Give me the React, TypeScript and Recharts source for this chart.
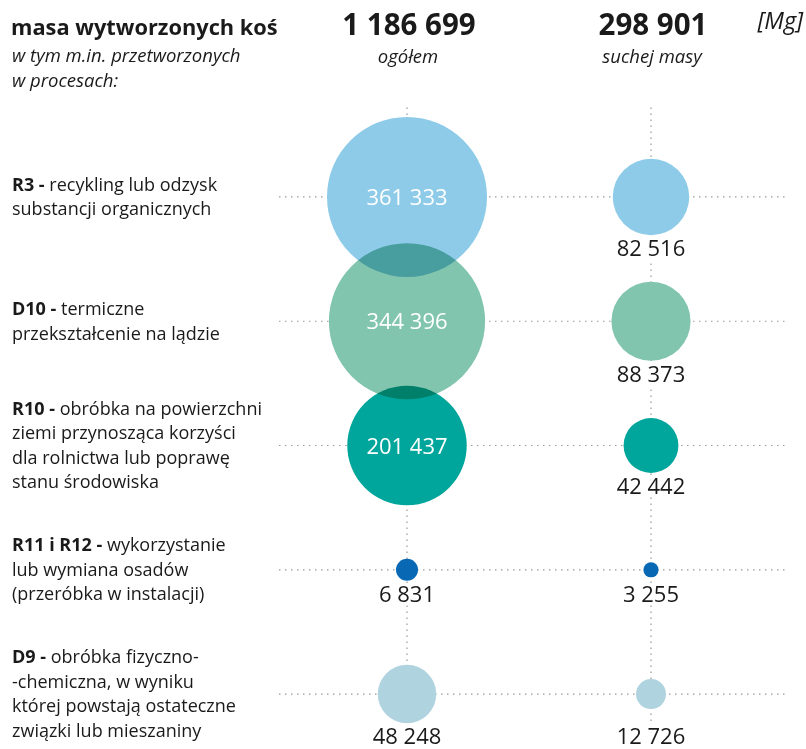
import { ScatterChart, Scatter, XAxis, YAxis, ZAxis, ReferenceLine } from 'recharts';

const processCodes = ['R3 -', 'D10 -', 'R10 -', 'R11 i R12 -', 'D9 -'];
const processLines = [
  ['recykling lub odzysk', 'substancji organicznych'],
  ['termiczne', 'przekształcenie na lądzie'],
  ['obróbka na powierzchni', 'ziemi przynosząca korzyści', 'dla rolnictwa lub poprawę', 'stanu środowiska'],
  ['wykorzystanie', 'lub wymiana osadów', '(przeróbka w instalacji)'],
  ['obróbka fizyczno-', '-chemiczna, w wyniku', 'której powstają ostateczne', 'związki lub mieszaniny'],
];
const totalMass = [361333, 344396, 201437, 6831, 48248];
const dryMass = [82516, 88373, 42442, 3255, 12726];
const columnTotals = ['1 186 699', '298 901'];
const columnNames = ['ogółem', 'suchej masy'];

const rowColors = ['#8dcbe8', '#81c5ae', '#00a59b', '#0868b4', '#b0d3e0'];
const FONT = '"Open Sans", sans-serif';
const MAX_R = 80;
const INSIDE_MIN = 100000;
const LINE_H = 24.6;
const maxValue = Math.max(...totalMass, ...dryMass);

const fmt = (v: number) => String(v).replace(/\B(?=(\d{3})+(?!\d))/g, ' ');

const toPoints = (values: number[], col: number) =>
  values.map((value, row) => ({ col, row, value }));
const totalPoints = toPoints(totalMass, 1);
const dryPoints = toPoints(dryMass, 2);

// radius of the biggest bubble in a row that carries its label underneath
const belowRadius = (row: number) =>
  Math.max(
    ...[totalMass[row], dryMass[row]]
      .filter((v) => v < INSIDE_MIN)
      .map((v) => Math.sqrt(v / maxValue) * MAX_R)
  );

function Bubble(props: any) {
  const { cx, cy, width, payload } = props;
  const r = width / 2;
  const inside = payload.value >= INSIDE_MIN;
  const labelY = inside ? cy + 8 : cy + belowRadius(payload.row) + 13 + 8;
  return (
    <g>
      <circle cx={cx} cy={cy} r={r} fill={rowColors[payload.row]} style={{ mixBlendMode: 'multiply' }} />
      <text
        x={cx}
        y={labelY}
        textAnchor="middle"
        fontFamily={FONT}
        fontSize={22}
        fill={inside ? '#ffffff' : '#1a1a1a'}
        stroke={inside ? 'none' : '#ffffff'}
        strokeWidth={6}
        paintOrder="stroke"
      >
        {fmt(payload.value)}
      </text>
    </g>
  );
}

function ProcessTick(props: any) {
  const { y, payload } = props;
  const i = payload.value;
  const lines = processLines[i];
  if (!lines) return null;
  const n = lines.length;
  return (
    <text x={12} fontFamily={FONT} fontSize={18} fill="#1a1a1a">
      {lines.map((line, k) => (
        <tspan key={k} x={12} y={y + (k - (n - 1) / 2) * LINE_H + 6}>
          {k === 0 && <tspan fontWeight="bold">{processCodes[i]} </tspan>}
          {line}
        </tspan>
      ))}
    </text>
  );
}

export default function App() {
  return (
    <div style={{ position: 'absolute', left: 0, top: 0, width: 806, height: 749, background: '#fff' }}>
      <ScatterChart width={806} height={749} margin={{ top: 105, right: 19, bottom: 4, left: 0 }}>
        <XAxis type="number" dataKey="col" hide domain={[0.4754, 2.5574]} allowDataOverflow />
        <YAxis
          type="number"
          dataKey="row"
          reversed
          width={279}
          domain={[-0.74, 4.41]}
          allowDataOverflow
          ticks={[0, 1, 2, 3, 4]}
          interval={0}
          axisLine={false}
          tickLine={false}
          tick={<ProcessTick />}
        />
        <ZAxis type="number" dataKey="value" domain={[0, maxValue]} range={[0, Math.PI * MAX_R * MAX_R]} />
        {totalMass.map((_, i) => (
          <ReferenceLine key={'h' + i} y={i} stroke="#9a9a9a" strokeWidth={1.2} strokeDasharray="1.5 4.5" />
        ))}
        {[1, 2].map((c) => (
          <ReferenceLine key={'v' + c} x={c} stroke="#9a9a9a" strokeWidth={1.2} strokeDasharray="1.5 4.5" />
        ))}
        <Scatter data={totalPoints} shape={(p: any) => <Bubble {...p} />} isAnimationActive={false} />
        <Scatter data={dryPoints} shape={(p: any) => <Bubble {...p} />} isAnimationActive={false} />
      </ScatterChart>
      <svg width={806} height={110} style={{ position: 'absolute', left: 0, top: 0, pointerEvents: 'none' }}>
        <text x={11} y={35} fontFamily={FONT} fontWeight="bold" fontSize={21.8} fill="#1a1a1a">
          masa wytworzonych koś
        </text>
        <text x={12} y={62} fontFamily={FONT} fontStyle="italic" fontSize={18.5} fill="#1a1a1a">
          w tym m.in. przetworzonych
        </text>
        <text x={12} y={87} fontFamily={FONT} fontStyle="italic" fontSize={18.5} fill="#1a1a1a">
          w procesach:
        </text>
        {columnTotals.map((t, i) => (
          <text key={t} x={[409, 653][i]} y={35} textAnchor="middle" fontFamily={FONT} fontWeight="bold" fontSize={29.5} fill="#1a1a1a">
            {t}
          </text>
        ))}
        {columnNames.map((t, i) => (
          <text key={t} x={[408, 652][i]} y={63} textAnchor="middle" fontFamily={FONT} fontStyle="italic" fontSize={18.5} fill="#1a1a1a">
            {t}
          </text>
        ))}
        <text x={803} y={29} textAnchor="end" fontFamily={FONT} fontStyle="italic" fontSize={23.5} fill="#1a1a1a">
          [Mg]
        </text>
      </svg>
    </div>
  );
}
